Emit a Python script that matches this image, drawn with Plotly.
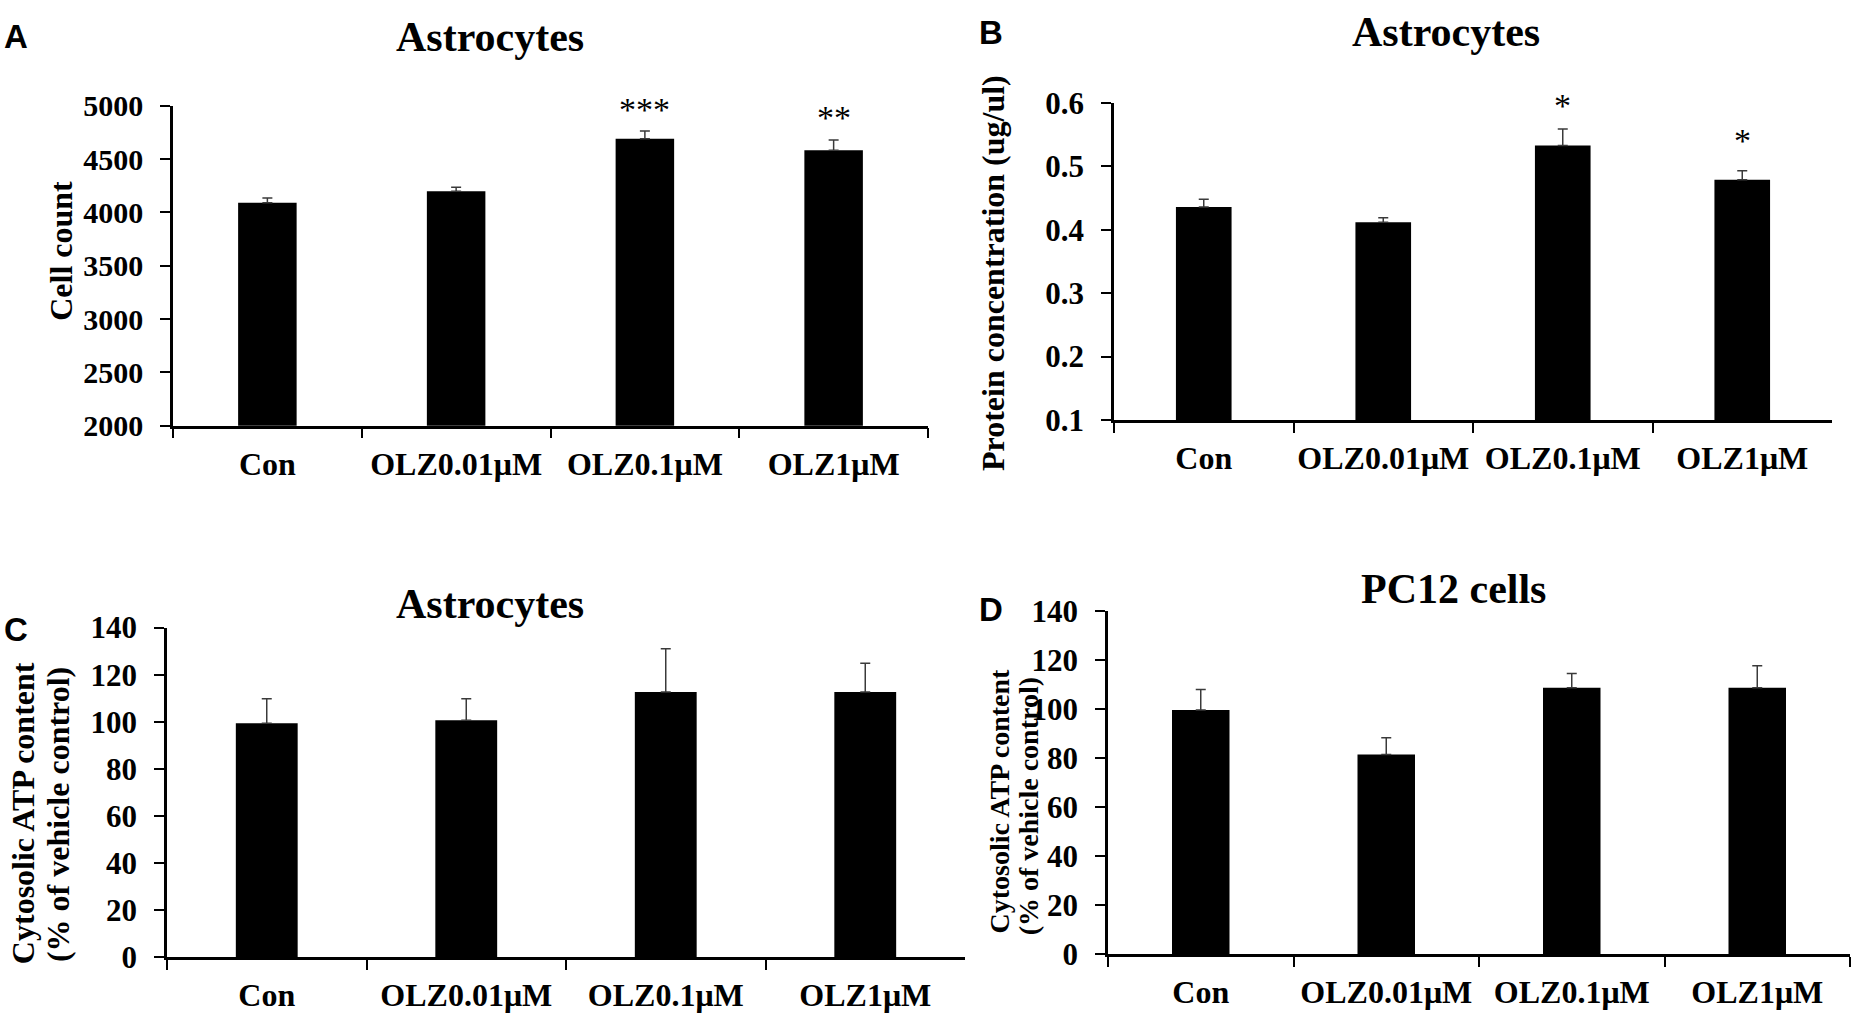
import plotly.graph_objects as go

W, H = 1856, 1035

categories = ["Con", "OLZ0.01μM", "OLZ0.1μM", "OLZ1μM"]

# Panel A: astrocyte cell count
cell_count_mean = [4091, 4199, 4692, 4583]
cell_count_err = [45, 37, 72, 97]
cell_count_sig = ["", "", "***", "**"]

# Panel B: astrocyte protein concentration (ug/ul)
protein_mean = [0.436, 0.412, 0.533, 0.479]
protein_err = [0.012, 0.007, 0.026, 0.014]
protein_sig = ["", "", "*", "*"]

# Panel C: astrocyte cytosolic ATP (% of vehicle control)
atp_astro_mean = [99.4, 100.6, 112.7, 112.7]
atp_astro_err = [10.4, 9.2, 18.3, 12.2]

# Panel D: PC12 cytosolic ATP (% of vehicle control)
atp_pc12_mean = [99.7, 81.5, 108.8, 108.8]
atp_pc12_err = [8.3, 6.8, 5.8, 8.9]

SERIF = "Liberation Serif"
SANS = "Liberation Sans"


def fx(p):
    return p / W


def fy(p):
    return 1 - p / H


panels = [
    ("x", "y", (173, 928), (423, 92), cell_count_mean, cell_count_err, [2000, 5000], 500, 30),
    ("x2", "y2", (1114, 1832), (417, 89), protein_mean, protein_err, [0.1, 0.6], 0.1, 31),
    ("x3", "y3", (167, 965), (973, 632), atp_astro_mean, atp_astro_err, [0, 140], 20, 31),
    ("x4", "y4", (1108, 1850), (970, 615), atp_pc12_mean, atp_pc12_err, [0, 140], 20, 31),
]

fig = go.Figure()
layout = dict(
    width=W, height=H,
    margin=dict(l=0, r=0, t=0, b=0),
    paper_bgcolor="white", plot_bgcolor="white",
    showlegend=False,
)

for xa, ya, xd, yd, means, errs, yr, dt, yfs in panels:
    fig.add_trace(go.Bar(
        x=categories, y=means, xaxis=xa, yaxis=ya,
        width=0.31, marker=dict(color="black", line=dict(width=0)),
        error_y=dict(type="data", symmetric=False, array=errs,
                     arrayminus=[0 for _ in errs], color="#3a3a3a",
                     thickness=1.5, width=5),
    ))
    xkey = "xaxis" + xa[1:]
    ykey = "yaxis" + ya[1:]
    layout[xkey] = dict(
        domain=[fx(xd[0]), fx(xd[1])], anchor=ya, type="category",
        range=[-0.5, 3.5], tickson="boundaries", ticks="outside",
        ticklen=10, tickwidth=2, tickcolor="black", tickangle=0,
        ticklabelstandoff=8,
        showline=True, linecolor="black", linewidth=2.5,
        showgrid=False, zeroline=False,
        tickfont=dict(family=SERIF, size=32, color="black", weight="bold"),
    )
    layout[ykey] = dict(
        domain=[fy(yd[0]), fy(yd[1])], anchor=xa, range=yr, dtick=dt,
        tick0=yr[0], ticks="outside", ticklen=10, tickwidth=2, tickcolor="black",
        ticklabelstandoff=11,
        showline=True, linecolor="black", linewidth=2.5,
        showgrid=False, zeroline=False,
        tickfont=dict(family=SERIF, size=yfs, color="black", weight="bold"),
    )

fig.update_layout(**layout)

ann = []


def text(t, x, y, size, family=SERIF, angle=0, weight="bold"):
    ann.append(dict(text=t, x=fx(x), y=fy(y), xref="paper", yref="paper",
                    xanchor="center", yanchor="middle", showarrow=False,
                    textangle=angle,
                    font=dict(family=family, size=size, color="black", weight=weight)))


# panel letters
text("A", 16, 20, 33, SANS)
text("B", 991, 16, 33, SANS)
text("C", 16, 634, 33, SANS)
text("D", 991, 613, 33, SANS)

# panel titles
text("Astrocytes", 490, 21, 42)
text("Astrocytes", 1446, 16, 42)
text("Astrocytes", 490, 608, 42)
text("PC12 cells", 1453, 592, 42)

# y-axis titles
text("Cell count", 61, 242, 32, angle=-90)
text("Protein concentration (ug/ul)", 993, 265, 32, angle=-90)
text("Cytosolic ATP content", 23, 824, 32, angle=-90)
text("(% of vehicle control)", 58, 826, 32, angle=-90)
text("Cytosolic ATP content", 1000, 812, 28, angle=-90)
text("(% of vehicle control)", 1028, 817, 28, angle=-90)

# significance stars (extra pixel gap above the error bar)
star_gap_a = [0, 0, 1, 2]
star_gap_b = [0, 0, 3, 10]
for (xa, ya, sig, means, errs, gaps) in [
        ("x", "y", cell_count_sig, cell_count_mean, cell_count_err, star_gap_a),
        ("x2", "y2", protein_sig, protein_mean, protein_err, star_gap_b)]:
    for c, s, m, e, g in zip(categories, sig, means, errs, gaps):
        if s:
            ann.append(dict(text=s, x=c, y=m + e, xref=xa, yref=ya,
                            xanchor="center", yanchor="bottom", yshift=g,
                            showarrow=False,
                            font=dict(family=SERIF, size=34, color="black")))

fig.update_layout(annotations=ann)
fig.write_html(
    "out.html",
    config={"displayModeBar": False},
    post_script=(
        "document.body.style.margin='0';"
        "document.body.style.overflow='hidden';"
        "var g=document.getElementById('{plot_id}');"
        "g.style.position='fixed';g.style.left='0';g.style.top='0';"
    ),
)
